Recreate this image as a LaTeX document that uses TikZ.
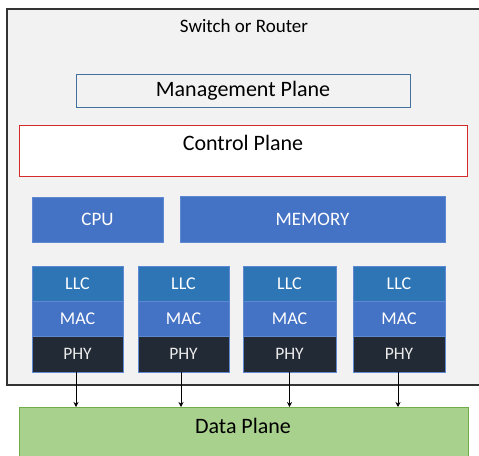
\documentclass[tikz,border=0pt]{standalone}
\usepackage{fontspec}
\usetikzlibrary{arrows.meta}
\setmainfont{Carlito}
\definecolor{bgc}{HTML}{F2F2F2}
\definecolor{mgmtc}{HTML}{41719C}
\definecolor{ctrlc}{HTML}{D42A2A}
\definecolor{blc}{HTML}{4472C4}
\definecolor{blb}{HTML}{5E88D2}
\definecolor{llcc}{HTML}{2E75B6}
\definecolor{phyc}{HTML}{222A35}
\definecolor{dpc}{HTML}{A9D18E}
\definecolor{dpb}{HTML}{70AD47}
\newcommand\fsz[1]{\fontsize{#1}{#1}\selectfont}
\begin{document}
\begin{tikzpicture}[x=1pt,y=-1pt,
  box/.style={draw, anchor=north west, inner sep=0pt, outer sep=0pt},
  hw/.style={box, fill=blc, draw=blb, line width=0.8pt, text=white, font=\fsz{19}},
  llcbox/.style={box, fill=llcc, draw=blb, line width=0.8pt, text=white, font=\fsz{18}, minimum height=35pt},
  macbox/.style={box, fill=blc, draw=blb, line width=0.8pt, text=white, font=\fsz{18}, minimum height=35pt},
  phybox/.style={box, fill=phyc, draw=blb, line width=0.8pt, text=white!92!black, font=\fsz{17.5}, minimum height=36pt},
  lbl/.style={inner sep=0pt, font=\fsz{22}},
  arr/.style={-{Stealth[length=5pt,width=5pt]}, line width=0.7pt, black}
]
\clip (0,0) rectangle (479,455);
\useasboundingbox (0,0) rectangle (479,455);
\fill[white] (0,0) rectangle (479,455);
% outer box
\node[box, fill=bgc, draw=black!80, line width=1.2pt, minimum width=480pt, minimum height=376pt] (outer) at (7,9) {};
\node[inner sep=0pt, font=\fsz{19}] (title) at (244,26) {Switch or Router};
% management plane
\node[box, fill=bgc, draw=mgmtc, line width=1pt, minimum width=334pt, minimum height=33pt, font=\fsz{22}] (mgmt) at (76,74) {Management Plane};
% control plane
\node[box, fill=white, draw=ctrlc, line width=1pt, minimum width=448pt, minimum height=51pt] (ctrl) at (19,125) {};
\node[lbl] (ctrltxt) at (243,143) {Control Plane};
% CPU / Memory
\node[hw, minimum width=131pt, minimum height=45pt] (cpu) at (32,197) {CPU};
\node[hw, minimum width=265pt, minimum height=46pt] (mem) at (180,196) {MEMORY};
% port stacks
\foreach \i/\x/\w in {1/32/91, 2/138/91, 3/243/93, 4/353/92}{
  \node[llcbox, minimum width=\w pt] (llc\i) at (\x,266) {LLC};
  \node[macbox, minimum width=\w pt] (mac\i) at (\x,301) {MAC};
  \node[phybox, minimum width=\w pt] (phy\i) at (\x,336) {PHY};
}
% data plane
\node[box, fill=dpc, draw=dpb, line width=1pt, minimum width=449pt, minimum height=60pt] (dp) at (19,407) {};
\node[lbl] (dptxt) at (243,426) {Data Plane};
% arrows
\draw[arr] ([xshift=-1.5pt]phy1.south) -- ([xshift=-1.5pt]phy1.south |- dp.north);
\draw[arr] ([xshift=-2.5pt]phy2.south) -- ([xshift=-2.5pt]phy2.south |- dp.north);
\draw[arr] (phy3.south) -- (phy3.south |- dp.north);
\draw[arr] ([xshift=-1pt]phy4.south) -- ([xshift=-1pt]phy4.south |- dp.north);
\end{tikzpicture}
\end{document}
